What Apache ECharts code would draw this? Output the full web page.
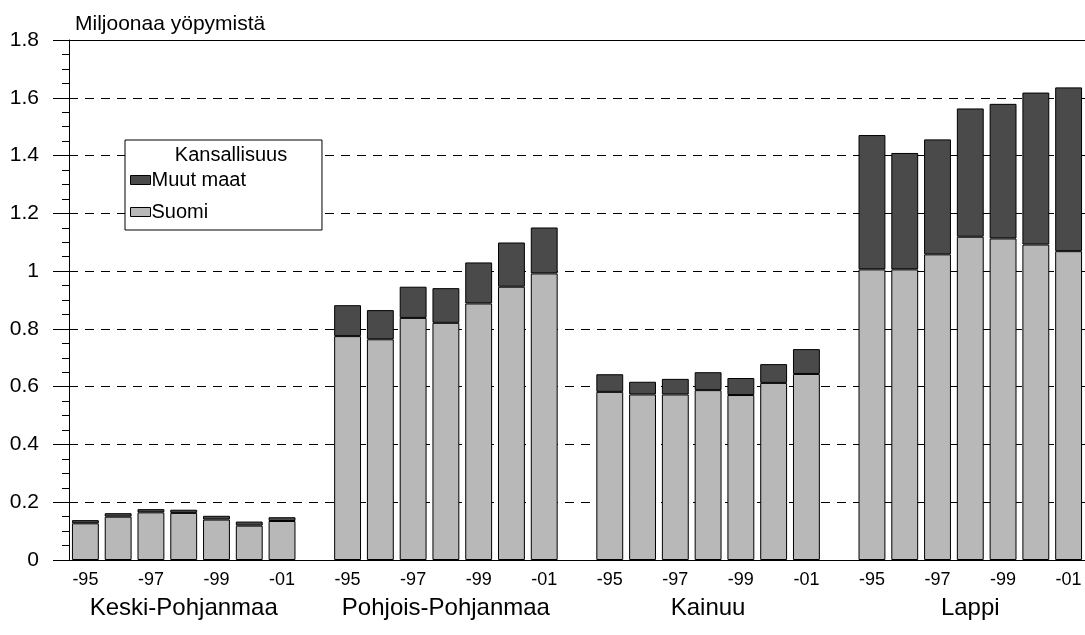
<!DOCTYPE html>
<html>
<head>
<meta charset="utf-8">
<script src="https://cdn.jsdelivr.net/npm/echarts@6/dist/echarts.min.js"></script>
<style>html,body{margin:0;padding:0;background:#fff;}#c{width:1085px;height:635px;}</style>
</head>
<body>
<div id="c"></div>
<script>
var regions = ['Keski-Pohjanmaa', 'Pohjois-Pohjanmaa', 'Kainuu', 'Lappi'];
var yearLabels = ['-95', '', '-97', '', '-99', '', '-01'];
var suomi = [
  [0.127, 0.150, 0.165, 0.163, 0.140, 0.119, 0.135],
  [0.775, 0.764, 0.838, 0.821, 0.888, 0.946, 0.992],
  [0.582, 0.573, 0.573, 0.588, 0.571, 0.613, 0.644],
  [1.006, 1.006, 1.058, 1.119, 1.113, 1.092, 1.069]
];
var muutMaat = [
  [0.011, 0.012, 0.011, 0.011, 0.013, 0.014, 0.013],
  [0.107, 0.101, 0.108, 0.120, 0.142, 0.153, 0.159],
  [0.061, 0.044, 0.054, 0.062, 0.059, 0.065, 0.086],
  [0.465, 0.403, 0.398, 0.444, 0.466, 0.526, 0.567]
];
var yTicks = ['0', '0.2', '0.4', '0.6', '0.8', '1', '1.2', '1.4', '1.6', '1.8'];

var cats = [], yearAxis = [], regionAxis = [], sData = [], mData = [];
regions.forEach(function (r, gi) {
  for (var i = 0; i < yearLabels.length; i++) {
    cats.push(r + i);
    yearAxis.push(yearLabels[i]);
    regionAxis.push(i === 3 ? r : '');
    sData.push(suomi[gi][i]);
    mData.push(muutMaat[gi][i]);
  }
  if (gi < regions.length - 1) {
    cats.push('gap' + gi);
    yearAxis.push('');
    regionAxis.push('');
    sData.push('-');
    mData.push('-');
  }
});

var FONT = 'Arial, "Liberation Sans", sans-serif';
var chart = echarts.init(document.getElementById('c'), null, {renderer: 'canvas'});
chart.setOption({
  animation: false,
  backgroundColor: '#fff',
  title: [{
    text: 'Miljoonaa yöpymistä', left: 70, top: 9,
    textStyle: {fontFamily: FONT, fontSize: 21, fontWeight: 'normal', color: '#000'}
  }, {
    text: 'Kansallisuus', left: 226, top: 140, textAlign: 'center',
    textStyle: {fontFamily: FONT, fontSize: 20, fontWeight: 'normal', color: '#000'}
  }],
  legend: {
    data: ['Muut maat', 'Suomi'],
    orient: 'vertical', left: 125, top: 140,
    padding: [30, 76, 8, 5],
    itemGap: 12, itemWidth: 20, itemHeight: 9,
    borderColor: '#000', borderWidth: 1, borderRadius: 0,
    backgroundColor: '#fff',
    icon: 'rect',
    textStyle: {fontFamily: FONT, fontSize: 20, color: '#000', padding: [0, 0, 0, -4]},
    itemStyle: {borderColor: '#000', borderWidth: 1}
  },
  grid: {left: 69, right: -2, top: 40, bottom: 75, containLabel: false},
  xAxis: [{
    type: 'category', data: cats, position: 'bottom',
    axisLine: {show: true, lineStyle: {color: '#000', width: 1}},
    axisTick: {show: false},
    axisLabel: {interval: 0, margin: 11, fontFamily: FONT, fontSize: 18, color: '#000',
      formatter: function (v, idx) { return yearAxis[idx]; }}
  }, {
    type: 'category', data: regionAxis, position: 'bottom', offset: 28,
    axisLine: {show: false}, axisTick: {show: false},
    axisLabel: {interval: 0, margin: 8, fontFamily: FONT, fontSize: 24, color: '#000'}
  }, {
    type: 'category', data: cats, position: 'top',
    axisLine: {show: true, lineStyle: {color: '#000', width: 1}},
    axisTick: {show: false}, axisLabel: {show: false}
  }],
  yAxis: {
    type: 'value', min: 0, max: 1.8, interval: 0.2,
    axisLine: {show: true, lineStyle: {color: '#000', width: 1}},
    axisTick: {show: true, length: 16, lineStyle: {color: '#000'}},
    minorTick: {show: true, splitNumber: 4, length: 7, lineStyle: {color: '#000'}},
    splitLine: {show: true, lineStyle: {color: '#000', type: [9, 7], width: 1}},
    axisLabel: {margin: 30, fontFamily: FONT, fontSize: 21, color: '#000',
      formatter: function (v) { return yTicks[Math.round(v / 0.2)]; }}
  },
  series: [{
    name: 'Suomi', type: 'bar', stack: 'a', data: sData, xAxisIndex: 0,
    barCategoryGap: '18%',
    itemStyle: {color: '#b8b8b8', borderColor: '#000', borderWidth: 1}
  }, {
    name: 'Muut maat', type: 'bar', stack: 'a', data: mData, xAxisIndex: 0,
    barCategoryGap: '18%',
    itemStyle: {color: '#4a4a4a', borderColor: '#000', borderWidth: 1}
  }]
});
</script>
</body>
</html>
